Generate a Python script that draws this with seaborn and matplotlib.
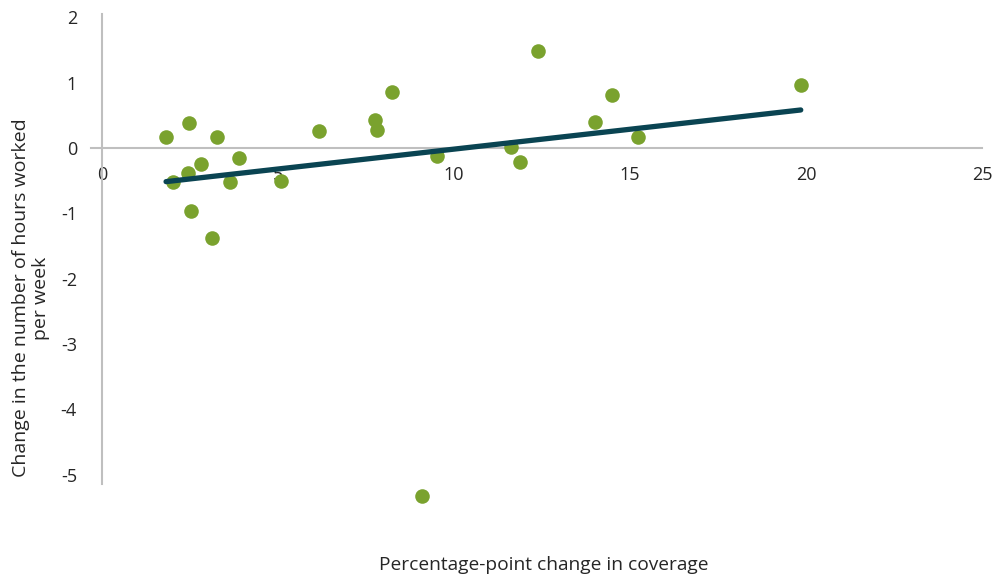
import numpy as np
import pandas as pd
import seaborn as sns
import matplotlib.pyplot as plt

# percentage-point change in coverage vs change in weekly hours worked
coverage_change = [1.82, 2.01, 2.48, 2.43, 2.53, 2.80, 3.13, 3.26, 3.65, 3.88,
                   5.09, 6.16, 7.76, 7.82, 8.23, 9.10, 9.53, 11.63, 11.87, 12.38,
                   14.00, 14.49, 15.23, 19.85]
hours_change = [0.16, -0.52, 0.38, -0.39, -0.97, -0.25, -1.38, 0.16, -0.52, -0.15,
                -0.50, 0.26, 0.42, 0.28, 0.86, -5.33, -0.13, 0.02, -0.22, 1.48,
                0.40, 0.81, 0.16, 0.96]

x_ticks = [0, 5, 10, 15, 20, 25]
y_ticks = [-5, -4, -3, -2, -1, 0, 1, 2]

df = pd.DataFrame({'coverage': coverage_change, 'hours': hours_change})

sns.set_style('white')
plt.rcParams['font.family'] = ['Open Sans', 'DejaVu Sans']
plt.rcParams['axes.unicode_minus'] = False

fig = plt.figure(figsize=(9.97, 5.8), dpi=100)
ax = fig.add_axes([0.0917, 0.1655, 0.985 - 0.0917, 0.976 - 0.1655])

sns.regplot(data=df, x='coverage', y='hours', ci=None, ax=ax,
            scatter_kws={'color': '#7AA22E', 's': 110, 'alpha': 1, 'linewidths': 0,
                         'clip_on': False, 'zorder': 3},
            line_kws={'color': '#0A4452', 'lw': 3.8, 'solid_capstyle': 'round', 'zorder': 4})

ax.set_xlim(-0.3, 25)
ax.set_ylim(-5.14, 2.05)
ax.set_xticks(x_ticks)
ax.set_yticks(y_ticks)

for s in ['top', 'right']:
    ax.spines[s].set_visible(False)
ax.spines['left'].set_position(('data', 0))
ax.spines['bottom'].set_position(('data', 0))
for s in ['left', 'bottom']:
    ax.spines[s].set_color('#BFBFBF')
    ax.spines[s].set_linewidth(1.5)

ax.tick_params(axis='both', length=0, labelsize=13, colors='#262626')
ax.tick_params(axis='x', pad=13)
ax.tick_params(axis='y', pad=18)

ax.set_xlabel('')
ax.set_ylabel('')
fig.text(0.545, 0.026, 'Percentage-point change in coverage', ha='center', va='center',
         fontsize=13.8, color='#262626')
fig.text(0.031, 0.486, 'Change in the number of hours worked\nper week', ha='center', va='center',
         rotation=90, fontsize=14, color='#262626', linespacing=1.1)

plt.savefig('out.png', dpi=100)
